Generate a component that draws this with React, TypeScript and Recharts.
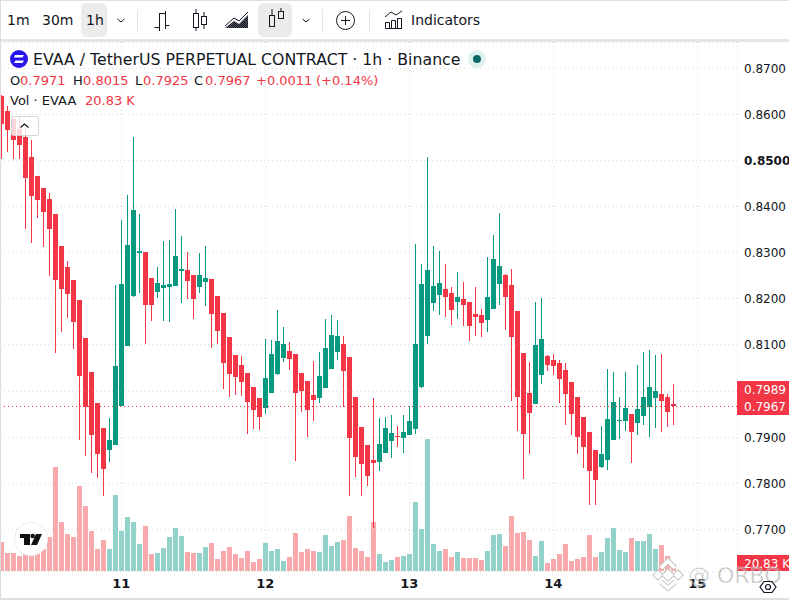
import {
  Bar,
  BarChart,
  CartesianGrid,
  ReferenceLine,
  XAxis,
  YAxis,
} from "recharts";

const UP = "#089981";
const DOWN = "#f23645";
const UP_VOL = "#92d2ca";
const DOWN_VOL = "#f8a9ab";
const GRID = "#d8d8d8";
const FONT = "'DejaVu Sans', sans-serif";

// hourly candles, bar 20 is the start of the 11th
const opens = [
  0.8638, 0.8606, 0.8588, 0.8568, 0.8551, 0.8507, 0.8466, 0.844, 0.8416, 0.8383,
  0.8314, 0.8268, 0.824, 0.8196, 0.8114, 0.804, 0.7972, 0.7918, 0.7872, 0.7881,
  0.7966, 0.8096, 0.8205, 0.8298, 0.8301, 0.8244, 0.8214, 0.8222, 0.8225, 0.8227,
  0.8259, 0.8262, 0.8251, 0.8225, 0.8235, 0.8242, 0.8205, 0.8168, 0.8116, 0.8077,
  0.8055, 0.8038, 0.8007, 0.7983, 0.7961, 0.7994, 0.8035, 0.807, 0.8085, 0.8079,
  0.8038, 0.802, 0.799, 0.7983, 0.8005, 0.8046, 0.8083, 0.8101, 0.8072, 0.7986,
  0.792, 0.7881, 0.7849, 0.7844, 0.7864, 0.789, 0.7901, 0.7896, 0.7903, 0.7916,
  0.8007, 0.8118, 0.819, 0.8207, 0.822, 0.8211, 0.8192, 0.8198, 0.8192, 0.8166,
  0.8164, 0.8153, 0.8177, 0.8231, 0.8251, 0.8229, 0.8172, 0.8081, 0.7994, 0.797,
  0.8033, 0.8075, 0.8066, 0.8059, 0.8044, 0.8018, 0.7986, 0.7942, 0.7911, 0.787,
  0.7835, 0.7849, 0.7892, 0.7933, 0.7933, 0.7948, 0.7929, 0.7944, 0.7964, 0.7983,
  0.7992, 0.7986, 0.7971,
];
const highs = [
  0.864, 0.8618, 0.8592, 0.8594, 0.8572, 0.8544, 0.8466, 0.844, 0.8429, 0.8383,
  0.8314, 0.8281, 0.824, 0.8196, 0.8114, 0.804, 0.7972, 0.7918, 0.794, 0.8229,
  0.837, 0.8424, 0.8551, 0.8383, 0.8301, 0.8244, 0.8268, 0.8325, 0.8327, 0.8394,
  0.8335, 0.8301, 0.8251, 0.8298, 0.8314, 0.8242, 0.8205, 0.8168, 0.8116, 0.8077,
  0.8075, 0.8038, 0.8007, 0.7983, 0.8111, 0.8109, 0.8175, 0.8138, 0.8105, 0.8079,
  0.8038, 0.802, 0.8064, 0.8083, 0.8155, 0.8164, 0.8153, 0.8118, 0.8072, 0.7986,
  0.792, 0.7881, 0.7983, 0.794, 0.7942, 0.7946, 0.7922, 0.7946, 0.7966, 0.8318,
  0.8275, 0.8507, 0.8314, 0.8303, 0.8275, 0.8225, 0.8257, 0.8235, 0.8192, 0.8225,
  0.8177, 0.829, 0.8338, 0.8385, 0.8253, 0.8264, 0.8172, 0.8081, 0.8061, 0.8192,
  0.8201, 0.8077, 0.8079, 0.8066, 0.8059, 0.8018, 0.7986, 0.7942, 0.7911, 0.787,
  0.7922, 0.8046, 0.804, 0.7986, 0.804, 0.7948, 0.8055, 0.8083, 0.8088, 0.8077,
  0.8079, 0.7992, 0.8015,
];
const lows = [
  0.8501, 0.8518, 0.8503, 0.8503, 0.8351, 0.832, 0.8374, 0.8311, 0.8249, 0.8081,
  0.8127, 0.8157, 0.809, 0.7892, 0.7859, 0.782, 0.7809, 0.777, 0.7844, 0.7881,
  0.7966, 0.8096, 0.8205, 0.8211, 0.8101, 0.8151, 0.8201, 0.8151, 0.8149, 0.8227,
  0.819, 0.8198, 0.8155, 0.8211, 0.8183, 0.8092, 0.8101, 0.8003, 0.7986, 0.799,
  0.7988, 0.7905, 0.7916, 0.7914, 0.7948, 0.7994, 0.8035, 0.8061, 0.8044, 0.7846,
  0.7953, 0.7899, 0.7933, 0.7972, 0.8005, 0.8046, 0.8066, 0.7964, 0.777, 0.7812,
  0.777, 0.7792, 0.7701, 0.7825, 0.7864, 0.7853, 0.7877, 0.7864, 0.7903, 0.7905,
  0.8007, 0.8101, 0.8172, 0.8164, 0.8161, 0.8142, 0.8155, 0.814, 0.8107, 0.8118,
  0.8116, 0.8127, 0.8177, 0.8185, 0.8131, 0.7977, 0.7911, 0.7807, 0.7862, 0.797,
  0.8014, 0.8042, 0.8033, 0.7972, 0.7925, 0.7903, 0.7862, 0.7831, 0.7753, 0.7751,
  0.7831, 0.7827, 0.7892, 0.7894, 0.7911, 0.7842, 0.7903, 0.7925, 0.7899, 0.7918,
  0.7909, 0.792, 0.7925,
];
const closes = [
  0.8579, 0.8566, 0.8544, 0.8533, 0.8462, 0.8422, 0.8414, 0.8388, 0.8351, 0.824,
  0.822, 0.8209, 0.8149, 0.8031, 0.7964, 0.7903, 0.7862, 0.7829, 0.7892, 0.8053,
  0.8231, 0.8316, 0.8392, 0.8303, 0.8185, 0.8185, 0.8233, 0.8229, 0.8231, 0.8292,
  0.8264, 0.8238, 0.8198, 0.8251, 0.8244, 0.8166, 0.8129, 0.8059, 0.8035, 0.8029,
  0.8018, 0.7975, 0.7957, 0.7942, 0.8027, 0.8079, 0.8107, 0.8101, 0.8068, 0.7994,
  0.7998, 0.7957, 0.7979, 0.8031, 0.8092, 0.812, 0.8118, 0.8042, 0.7896, 0.7855,
  0.784, 0.7814, 0.7842, 0.7885, 0.7918, 0.7907, 0.7899, 0.7909, 0.7933, 0.8101,
  0.8231, 0.8262, 0.8227, 0.8233, 0.8203, 0.8175, 0.8203, 0.8185, 0.814, 0.8159,
  0.8146, 0.8203, 0.8285, 0.827, 0.8203, 0.8116, 0.7986, 0.7905, 0.7951, 0.8098,
  0.8111, 0.8055, 0.8053, 0.8025, 0.7992, 0.7948, 0.7899, 0.7877, 0.7825, 0.7805,
  0.7862, 0.7938, 0.7975, 0.7935, 0.7961, 0.7911, 0.7959, 0.7986, 0.8007, 0.7998,
  0.7977, 0.7953, 0.7967,
];
// thousands of EVAA
const volumes = [
  80.6, 50, 50, 41.6, 50, 49, 54, 60, 94.4, 289, 136, 102.8, 94.4, 236, 180.6,
  111.2, 61.2, 86, 61.2, 211.2, 111.2, 150, 136, 75, 125, 47.2, 50, 64, 94.4, 119.4,
  97.2, 52.8, 50, 50, 66.6, 77.8, 33.4, 55.6, 66.6, 47.2, 36, 55.6, 25, 33.4, 77.8,
  55.6, 61.2, 27.8, 38.8, 105.6, 52.8, 61.2, 55.6, 52.8, 100, 69.4, 80.6, 86, 152.8,
  64, 55.6, 38.8, 136, 47.2, 25, 30.6, 38.8, 41.6, 47.2, 191.6, 116.6, 366.6, 75,
  55.6, 61.2, 38.8, 52.8, 36, 36, 36, 30.6, 55.6, 100, 102.8, 69.4, 152.8, 105.6,
  108.4, 86, 41.6, 83.4, 22.2, 33.4, 47.2, 75, 27.8, 33.4, 38.8, 100, 38.8, 52.8,
  91.6, 119.4, 58.4, 52.8, 91.6, 83.4, 83.4, 102.8, 61.2, 72.2, 41.6, 20.83,
];

const priceTicks = [0.77, 0.78, 0.79, 0.8, 0.81, 0.82, 0.83, 0.84, 0.85, 0.86, 0.87];
const dayTicks = [20, 44, 68, 92, 116];
const dayLabels = ["11", "12", "13", "14", "15"];
const LAST_CLOSE = 0.7967;
const LAST_VOLUME = 20.83;

const candles = closes.map((c, i) => ({
  i,
  open: opens[i],
  high: highs[i],
  low: lows[i],
  close: c,
  volume: volumes[i],
}));

// snap to whole pixels so wicks and bodies stay crisp
function Candle(props: any) {
  const { x, y, width, height, payload } = props;
  const { open, high, low, close } = payload;
  const color = close >= open ? UP : DOWN;
  const perPrice = height / (high - low);
  const top = Math.round(y + (high - Math.max(open, close)) * perPrice);
  const bottom = Math.round(y + (high - Math.min(open, close)) * perPrice);
  const mid = Math.round(x + width / 2);
  return (
    <g>
      <rect x={mid} y={Math.round(y)} width={1} height={Math.round(height)} fill={color} />
      <rect x={mid - 2} y={top} width={5} height={Math.max(1, bottom - top)} fill={color} />
    </g>
  );
}

function VolumeBar(props: any) {
  const { x, y, width, height, payload } = props;
  const mid = Math.round(x + width / 2);
  const top = Math.round(y);
  return (
    <rect
      x={mid - 2}
      y={top}
      width={5}
      height={Math.round(y + height) - top}
      fill={payload.close >= payload.open ? UP_VOL : DOWN_VOL}
    />
  );
}

function HGrid({ x1, x2, y1 }: any) {
  const y = Math.round(y1) + 0.5;
  return <line x1={x1} x2={x2} y1={y} y2={y} stroke={GRID} strokeDasharray="1 3" />;
}

function VGrid({ x1, y1, y2 }: any) {
  const x = Math.floor(x1) + 0.5;
  return <line x1={x} x2={x} y1={y1} y2={y2} stroke={GRID} strokeDasharray="1 3" />;
}

function LastLine({ x1, x2, y1 }: any) {
  const y = Math.round(y1) + 0.5;
  return <line x1={x1} x2={x2} y1={y} y2={y} stroke={DOWN} strokeDasharray="1 3" />;
}

function PriceTick({ x, y, payload }: any) {
  // 0.8000 sits under the last price tag
  if (payload.value === 0.8) return <g />;
  const bold = payload.value === 0.85;
  return (
    <text
      x={x - 1}
      y={y + 5}
      fontFamily={FONT}
      fontSize={12}
      fontWeight={bold ? 700 : 400}
      fill="#131722"
    >
      {payload.value.toFixed(4)}
    </text>
  );
}

function DayTick({ x, y, payload }: any) {
  return (
    <text
      x={x}
      y={y + 9}
      textAnchor="middle"
      fontFamily={FONT}
      fontSize={13}
      fontWeight={700}
      fill="#131722"
    >
      {dayLabels[dayTicks.indexOf(payload.value)]}
    </text>
  );
}

function PriceTag({ viewBox }: any) {
  const y = Math.round(viewBox.y);
  const left = viewBox.x + viewBox.width;
  return (
    <g fontFamily={FONT} fontSize={12} fill="#fff">
      <rect x={left} y={y - 25} width={52} height={34} fill={DOWN} />
      <text x={left + 7} y={y - 12}>0.7989</text>
      <text x={left + 7} y={y + 5}>0.7967</text>
    </g>
  );
}

function VolumeTag({ viewBox }: any) {
  const left = viewBox.x + viewBox.width;
  return (
    <g fontFamily={FONT} fontSize={12} fill="#fff">
      <rect x={left} y={555} width={52} height={16} fill={DOWN} />
      <text x={left + 7} y={568}>20.83 K</text>
    </g>
  );
}

function Toolbar() {
  const ink = "#131722";
  return (
    <div style={{ position: "absolute", left: 0, top: 0, width: 789, height: 42, background: "#fff" }}>
      <div style={{ position: "absolute", left: 81, top: 3, width: 26, height: 34, borderRadius: 6, background: "#ebebeb" }} />
      <div style={{ position: "absolute", left: 258, top: 3, width: 34, height: 34, borderRadius: 6, background: "#ebebeb" }} />
      {[["1m", 7], ["30m", 42], ["1h", 86]].map(([t, l]) => (
        <span key={t} style={{ position: "absolute", left: l as number, top: 12, fontSize: 14, color: ink, fontFamily: FONT }}>
          {t}
        </span>
      ))}
      <span style={{ position: "absolute", left: 411, top: 12, fontSize: 14, color: ink, fontFamily: FONT }}>
        Indicators
      </span>
      <svg width={789} height={42} style={{ position: "absolute", left: 0, top: 0 }} fill="none" stroke={ink} strokeWidth={1}>
        <defs>
          <pattern id="hatch" width={2} height={2} patternUnits="userSpaceOnUse">
            <rect width={1} height={1} fill="#131722" />
            <rect x={1} y={1} width={1} height={1} fill="#131722" />
          </pattern>
        </defs>
        <path d="M117.5 19l3.5 3 3.5-3M302.5 19l3.5 3 3.5-3" />
        <path d="M137.5 9.5v22M322.5 9.5v22M369.5 9.5v22" stroke="#e0e3eb" />
        <path d="M154.5 27.5h5M159.5 13v18M165.5 11v18M165.5 25.5h4M160 13.5h5" />
        <rect x="193.5" y="13.5" width="5" height="14" />
        <path d="M196 9v4M196 28v3" />
        <rect x="201.5" y="16.5" width="5" height="8" />
        <path d="M204 12v4M204 25v4" />
        <path d="M225 26l9-8 5 3 9-9" />
        <path d="M225 28l9-7 5 3 9-9v13z" fill="url(#hatch)" stroke="none" />
        <rect x="269.5" y="15.5" width="5" height="11" />
        <path d="M272 9v6" />
        <rect x="278.5" y="11.5" width="5" height="7" />
        <path d="M281 8v3" />
        <circle cx="345.5" cy="20.5" r="9" />
        <path d="M341 20.5h9M345.5 16v9" />
        <path d="M385.5 28.5h16.5M385.5 28.5v-6h4v6M391.5 28.5v-8h4v8M397.5 28.5v-10h4v10M385 17l6-5 5 3 6-4" />
      </svg>
      <div style={{ position: "absolute", left: 0, top: 39, width: 789, height: 3, background: "#e6e6e6" }} />
      <div style={{ position: "absolute", left: 0, top: 0, width: 789, height: 1, background: "#e0e0e0" }} />
    </div>
  );
}

function LegendBlock() {
  const ink = "#131722";
  const values: [string, number, string][] = [
    ["O", 10, ink], ["0.7971", 20, DOWN], ["H", 73, ink], ["0.8015", 83, DOWN],
    ["L", 135, ink], ["0.7925", 143, DOWN], ["C", 194, ink], ["0.7967", 205, DOWN],
    ["+0.0011", 256, DOWN], ["(+0.14%)", 316, DOWN],
  ];
  return (
    <div style={{ fontFamily: FONT, whiteSpace: "nowrap" }}>
      <svg width={20} height={20} style={{ position: "absolute", left: 9, top: 49 }}>
        <circle cx={10} cy={10} r={9} fill="#2a15e8" />
        <path d="M6 6h9l-1.5 2.5H5zM6.5 11.5H15L13.5 14H5z" fill="#fff" />
      </svg>
      <span style={{ position: "absolute", left: 33, top: 50, fontSize: 15.75, color: ink }}>
        EVAA / TetherUS PERPETUAL CONTRACT · 1h · Binance
      </span>
      <svg width={20} height={20} style={{ position: "absolute", left: 467, top: 49 }}>
        <circle cx={10} cy={10} r={9} fill="#dff1ef" />
        <circle cx={10} cy={10} r={4} fill="#0a6a64" />
      </svg>
      {values.map(([t, l, c]) => (
        <span key={l} style={{ position: "absolute", left: l, top: 73, fontSize: 13, color: c }}>
          {t}
        </span>
      ))}
      <span style={{ position: "absolute", left: 10, top: 93, fontSize: 13, color: ink }}>Vol · EVAA</span>
      <span style={{ position: "absolute", left: 85, top: 93, fontSize: 13, color: DOWN }}>20.83 K</span>
      <div
        style={{
          position: "absolute",
          left: 11,
          top: 116,
          width: 28,
          height: 20,
          boxSizing: "border-box",
          border: "1px solid rgba(205,205,205,0.8)",
          borderRadius: 3,
          background: "rgba(255,255,255,0.8)",
        }}
      >
        <svg width={26} height={18}>
          <path d="M8.5 10.5l4-3.5 4 3.5" fill="none" stroke={ink} strokeWidth={1.3} />
        </svg>
      </div>
    </div>
  );
}

function Overlays() {
  return (
    <>
      <svg width={36} height={36} style={{ position: "absolute", left: 13, top: 521 }}>
        <circle cx={18} cy={18} r={16.5} fill="#fff" stroke="#ececec" />
        <path d="M7 13h10v11h-6v-7H7zM23 13h6l-5 11h-6z" fill="#111" />
        <circle cx={19.7} cy={15} r={2.3} fill="#111" />
      </svg>
      <svg width={135} height={40} style={{ position: "absolute", left: 652, top: 555 }}>
        <g fill="none" stroke="#c4c4c4" strokeWidth={5.5}>
          <path d="M9 13l7-7 7 7M9 27l7 6 7-6M13 20l3-3 3 3-3 3zM4 20l2-2 2 2-2 2zM24 20l2-2 2 2-2 2z" />
        </g>
        <g fill="none" stroke="#fff" strokeWidth={3.5}>
          <path d="M9 13l7-7 7 7M9 27l7 6 7-6M13 20l3-3 3 3-3 3zM4 20l2-2 2 2-2 2zM24 20l2-2 2 2-2 2z" />
        </g>
        <text
          x={36}
          y={28}
          fontFamily={FONT}
          fontSize={22}
          fill="#999"
          stroke="#fff"
          strokeWidth={0.5}
          opacity={0.6}
        >
          @ ORBO
        </text>
      </svg>
      <svg width={18} height={18} style={{ position: "absolute", left: 759, top: 578 }}>
        <path d="M5 3.5h8l4 5.5-4 5.5H5L1 9z" fill="none" stroke="#131722" strokeWidth={1.2} />
        <circle cx={9} cy={9} r={2.5} fill="none" stroke="#131722" strokeWidth={1.2} />
      </svg>
    </>
  );
}

export default function App() {
  return (
    <div style={{ position: "absolute", left: 0, top: 0, width: 789, height: 600, overflow: "hidden", background: "#fff" }}>
      <BarChart
        width={789}
        height={600}
        data={candles}
        margin={{ top: 42, right: 0, bottom: 0, left: 0 }}
        barSize={5}
        barGap={-5}
      >
        <CartesianGrid
          xAxisId="time"
          yAxisId="price"
          horizontal={(p: any) => <HGrid key={p.key} {...p} />}
          vertical={(p: any) => <VGrid key={p.key} {...p} />}
        />
        <XAxis
          xAxisId="time"
          dataKey="i"
          type="number"
          domain={[-0.217, 122.617]}
          ticks={dayTicks}
          tick={<DayTick />}
          tickLine={false}
          axisLine={false}
          height={29}
          allowDataOverflow
        />
        <YAxis
          yAxisId="price"
          orientation="right"
          domain={[0.76085, 0.8756]}
          ticks={priceTicks}
          tick={<PriceTick />}
          tickLine={false}
          axisLine={false}
          width={52}
          allowDataOverflow
        />
        <YAxis yAxisId="vol" hide domain={[0, 1470]} allowDataOverflow />
        <ReferenceLine
          xAxisId="time"
          yAxisId="price"
          y={LAST_CLOSE}
          shape={<LastLine />}
          label={<PriceTag />}
        />
        <ReferenceLine
          xAxisId="time"
          yAxisId="vol"
          y={LAST_VOLUME}
          strokeOpacity={0}
          label={<VolumeTag />}
        />
        <Bar
          xAxisId="time"
          yAxisId="vol"
          dataKey="volume"
          shape={<VolumeBar />}
          isAnimationActive={false}
        />
        <Bar
          xAxisId="time"
          yAxisId="price"
          dataKey={(d: any) => [d.low, d.high]}
          shape={<Candle />}
          isAnimationActive={false}
        />
      </BarChart>
      <Toolbar />
      <LegendBlock />
      <Overlays />
      <div style={{ position: "absolute", left: 0, top: 0, width: 1, height: 600, background: "#dcdcdc" }} />
      <div style={{ position: "absolute", left: 0, top: 598, width: 789, height: 2, background: "#e0e0e0" }} />
    </div>
  );
}
